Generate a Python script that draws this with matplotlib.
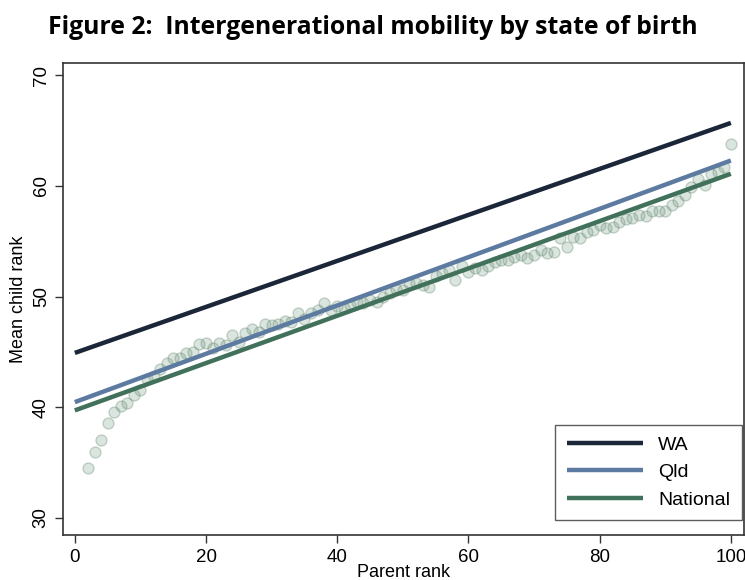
import numpy as np
import matplotlib.pyplot as plt

# -------------------------------------------------
# data
# -------------------------------------------------
parent_rank = list(range(2, 101))
child_rank = [
    34.5, 35.9, 37.0, 38.6, 39.6, 40.1, 40.4, 41.1, 41.5, 42.5,   # 2-11
    42.8, 43.4, 44.0, 44.4, 44.4, 44.9, 45.0, 45.7, 45.8, 45.3,   # 12-21
    45.8, 45.6, 46.5, 45.9, 46.7, 47.1, 46.8, 47.5, 47.4, 47.5,   # 22-31
    47.8, 47.7, 48.5, 48.0, 48.5, 48.8, 49.4, 48.8, 49.1, 49.0,   # 32-41
    49.2, 49.5, 49.4, 49.7, 49.5, 50.0, 50.3, 50.7, 50.6, 51.2,   # 42-51
    51.2, 51.0, 50.9, 51.9, 52.1, 52.4, 51.5, 52.8, 52.2, 52.6,   # 52-61
    52.4, 52.8, 53.1, 53.3, 53.3, 53.6, 53.8, 53.5, 53.75, 54.2,  # 62-71
    53.9, 54.0, 55.25, 54.5, 55.4, 55.3, 55.85, 56.0, 56.45, 56.2,  # 72-81
    56.3, 56.75, 57.0, 57.1, 57.4, 57.3, 57.7, 57.75, 57.75, 58.25,  # 82-91
    58.6, 59.2, 59.9, 60.6, 60.1, 61.1, 61.3, 61.7, 63.8,          # 92-100
]

series = ["WA", "Qld", "National"]
fit_start = [44.9, 40.45, 39.7]   # fitted value at parent rank 0
fit_end = [65.7, 62.3, 61.1]      # fitted value at parent rank 100
colors = ["#1b2639", "#5d7ba1", "#41715a"]

x_ticks = [0, 20, 40, 60, 80, 100]
y_ticks = [30, 40, 50, 60, 70]

# -------------------------------------------------
# plot
# -------------------------------------------------
plt.rcParams['font.family'] = ['Liberation Sans', 'DejaVu Sans']

fig = plt.figure(figsize=(7.45, 5.8), dpi=100)
ax = fig.add_axes([0.0846, 0.077, 0.914, 0.814])

ax.scatter(parent_rank, child_rank, s=62, facecolor=(0.45, 0.6, 0.5, 0.25),
           edgecolor=(0.35, 0.5, 0.4, 0.32), linewidth=1.0, zorder=2)

for name, y0, y1, c in zip(series, fit_start, fit_end, colors):
    ax.plot([0, 100], [y0, y1], color=c, linewidth=3.2, label=name,
            solid_capstyle='butt', zorder=3)

ax.set_xlim(-1.8, 102.0)
ax.set_ylim(28.4, 71.1)
ax.set_xticks(x_ticks)
ax.set_yticks(y_ticks)
ax.tick_params(axis='both', labelsize=13.5, length=6, width=1, color='#333333')
plt.setp(ax.get_yticklabels(), rotation=90, va='center')
for s in ax.spines.values():
    s.set_color('#333333')
    s.set_linewidth(1.2)

ax.set_xlabel("Parent rank", fontsize=13, labelpad=-1)
ax.set_ylabel("Mean child rank", fontsize=13, labelpad=4)

leg = ax.legend(loc='lower right', bbox_to_anchor=(0.997, 0.032),
                fontsize=14, handlelength=3.9, frameon=True, fancybox=False,
                borderpad=0.6, labelspacing=0.5, borderaxespad=0.0,
                handletextpad=0.8)
leg.get_frame().set_edgecolor('#333333')
leg.get_frame().set_linewidth(1.0)

fig.text(0.5, 0.953, "Figure 2:  Intergenerational mobility by state of birth",
         ha='center', va='center', fontsize=17.8, fontweight='bold',
         family=['Open Sans', 'DejaVu Sans'])

fig.savefig("out.png", dpi=100)
plt.close()
